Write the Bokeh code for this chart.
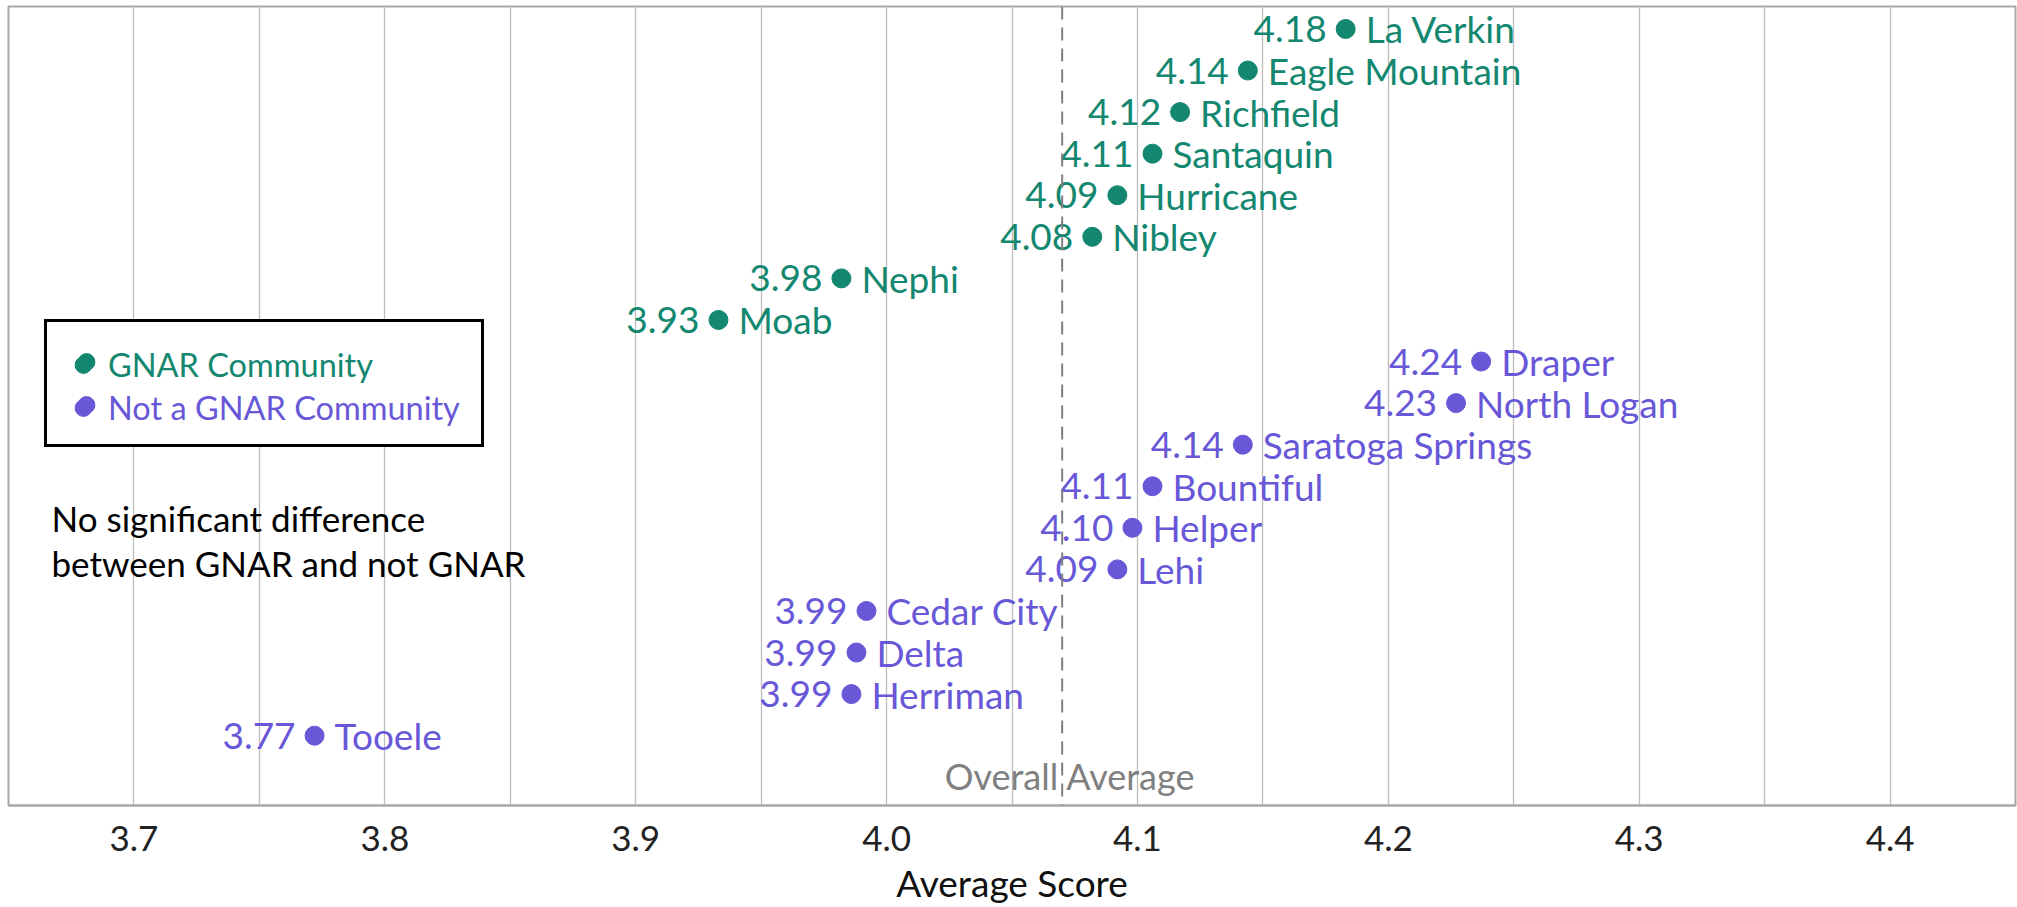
from bokeh.plotting import figure
from bokeh.models import (Range1d, FixedTicker, Span, Label, Legend, LegendItem,
                          ColumnDataSource, NumeralTickFormatter)
from bokeh.embed import file_html
from bokeh.resources import INLINE
from bokeh.core.properties import value

# ---------------- data ----------------
gnar_cities = ["La Verkin", "Eagle Mountain", "Richfield", "Santaquin",
               "Hurricane", "Nibley", "Nephi", "Moab"]
gnar_scores = [4.183, 4.144, 4.117, 4.106, 4.092, 4.082, 3.982, 3.933]

other_cities = ["Draper", "North Logan", "Saratoga Springs", "Bountiful",
                "Helper", "Lehi", "Cedar City", "Delta", "Herriman", "Tooele"]
other_scores = [4.237, 4.227, 4.142, 4.106, 4.098, 4.092, 3.992, 3.988, 3.986, 3.772]

overall_average = 4.07
x_ticks = [3.7, 3.8, 3.9, 4.0, 4.1, 4.2, 4.3, 4.4]
x_minor = [3.65, 3.75, 3.85, 3.95, 4.05, 4.15, 4.25, 4.35, 4.45]
series_names = ["GNAR Community", "Not a GNAR Community"]
note_lines = ["No significant difference", "between GNAR and not GNAR"]

GREEN = "#13876f"
PURPLE = "#6858d8"
FONT = "Lato"

n_rows = len(gnar_cities) + len(other_cities)
rows = list(range(n_rows - 1, -1, -1))  # top to bottom

src_g = ColumnDataSource(dict(
    x=gnar_scores, y=rows[:len(gnar_cities)], name=gnar_cities,
    val=[f"{v:.2f}" for v in gnar_scores]))
src_o = ColumnDataSource(dict(
    x=other_scores, y=rows[len(gnar_cities):], name=other_cities,
    val=[f"{v:.2f}" for v in other_scores]))

p = figure(width=2017, height=907, output_backend="svg", toolbar_location=None,
           x_range=Range1d(3.65, 4.45),
           y_range=Range1d(-1.68, n_rows - 1 + 0.54),
           min_border_left=8, min_border_right=2, min_border_top=6,
           background_fill_color="white", border_fill_color="white")

p.yaxis.visible = False
p.ygrid.visible = False

ticker = FixedTicker(ticks=x_ticks, minor_ticks=x_minor)
p.xaxis.ticker = ticker
p.xgrid.ticker = ticker
p.xaxis.formatter = NumeralTickFormatter(format="0.0")
p.xgrid.grid_line_color = "#bdbdbd"
p.xgrid.grid_line_width = 1.3
p.xgrid.minor_grid_line_color = "#bdbdbd"
p.xgrid.minor_grid_line_width = 1.3

p.xaxis.axis_label = "Average Score"
p.xaxis.axis_label_text_font = FONT
p.xaxis.axis_label_text_font_style = "normal"
p.xaxis.axis_label_text_font_size = "37px"
p.xaxis.axis_label_text_color = "#111111"
p.xaxis.axis_label_standoff = 6
p.xaxis.major_label_text_font = FONT
p.xaxis.major_label_text_font_size = "35px"
p.xaxis.major_label_text_color = "#222222"
p.xaxis.major_label_standoff = 20
p.xaxis.major_tick_in = 0
p.xaxis.major_tick_out = 0
p.xaxis.minor_tick_in = 0
p.xaxis.minor_tick_out = 0
p.xaxis.axis_line_color = "#a8a8a8"
p.xaxis.axis_line_width = 2

p.outline_line_color = "#a8a8a8"
p.outline_line_width = 2

p.add_layout(Span(location=overall_average, dimension="height",
                  line_color="#7f7f7f", line_width=2, line_dash="13 8"))
p.add_layout(Label(x=overall_average, y=30, x_units="data", y_units="screen", x_offset=8,
                   text="Overall Average", text_align="center", text_baseline="middle",
                   text_font=FONT, text_font_size="36px", text_color="#808080"))

rg = p.scatter("x", "y", source=src_g, size=19, color=GREEN)
ro = p.scatter("x", "y", source=src_o, size=19, color=PURPLE)

for src, col in ((src_g, GREEN), (src_o, PURPLE)):
    p.text("x", "y", text="val", source=src, text_align="right", text_baseline="middle",
           x_offset=-19, text_font=value(FONT), text_font_size="37px", text_color=col)
    p.text("x", "y", text="name", source=src, text_align="left", text_baseline="middle",
           x_offset=20, text_font=value(FONT), text_font_size="37px", text_color=col)

# legend: one bordered box, each label coloured like its series
PAD, ROW_H, GAP, GW = 18, 43, 0, 42
common = dict(spacing=GAP, margin=0, glyph_width=GW, glyph_height=ROW_H,
              label_height=ROW_H, label_standoff=4, label_text_font=FONT,
              label_text_font_size="32.5px")
bx, by = 36, 358
L_box = Legend(items=[LegendItem(label=series_names[0], renderers=[rg]),
                      LegendItem(label=series_names[1], renderers=[ro])],
               location=(bx, by), padding=PAD, border_line_color="black",
               border_line_alpha=1.0, border_line_width=3,
               background_fill_color="white", background_fill_alpha=1.0,
               label_text_alpha=0.0, **common)
# borderless legends have no padding, so shift them by PAD
L_o = Legend(items=[LegendItem(label=series_names[1], renderers=[ro])],
             location=(bx + PAD, by + PAD), padding=0, border_line_color=None,
             background_fill_alpha=0.0, label_text_color=PURPLE, **common)
L_g = Legend(items=[LegendItem(label=series_names[0], renderers=[rg])],
             location=(bx + PAD, by + PAD + ROW_H + GAP), padding=0, border_line_color=None,
             background_fill_alpha=0.0, label_text_color=GREEN, **common)
for L in (L_box, L_o, L_g):
    p.add_layout(L)

for i, line in enumerate(note_lines):
    p.add_layout(Label(x=43, y=288 - 45 * i, x_units="screen", y_units="screen",
                       text=line, text_baseline="middle", text_font=FONT,
                       text_font_size="35px", text_color="black"))

open("out.html", "w").write(file_html(p, INLINE))
